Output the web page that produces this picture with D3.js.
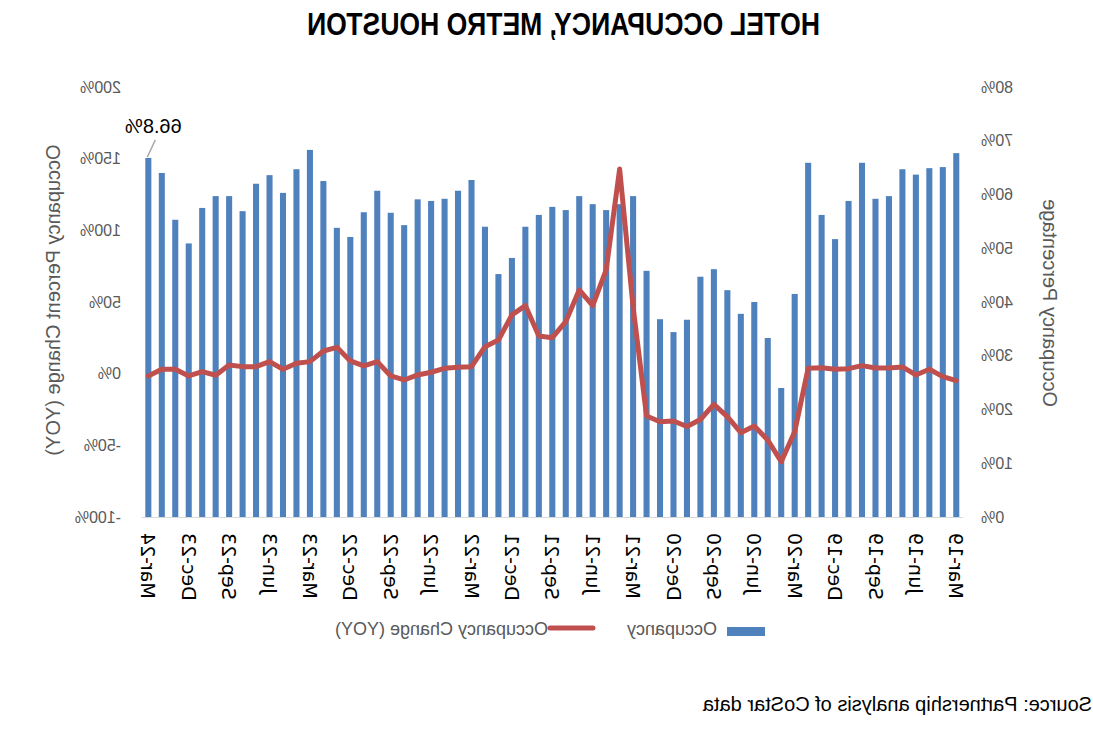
<!DOCTYPE html>
<html>
<head>
<meta charset="utf-8">
<script src="https://cdn.jsdelivr.net/npm/d3@7"></script>
<style>
  html, body { margin: 0; padding: 0; background: #fff; }
  svg { display: block; }
</style>
</head>
<body>
<svg id="chart" width="1093" height="733"></svg>
<script>
// ---- Data (monthly, Mar-19 .. Mar-24) ----
const months = [
  "Mar-19","Apr-19","May-19","Jun-19","Jul-19","Aug-19","Sep-19","Oct-19","Nov-19","Dec-19","Jan-20","Feb-20",
  "Mar-20","Apr-20","May-20","Jun-20","Jul-20","Aug-20","Sep-20","Oct-20","Nov-20","Dec-20","Jan-21","Feb-21",
  "Mar-21","Apr-21","May-21","Jun-21","Jul-21","Aug-21","Sep-21","Oct-21","Nov-21","Dec-21","Jan-22","Feb-22",
  "Mar-22","Apr-22","May-22","Jun-22","Jul-22","Aug-22","Sep-22","Oct-22","Nov-22","Dec-22","Jan-23","Feb-23",
  "Mar-23","Apr-23","May-23","Jun-23","Jul-23","Aug-23","Sep-23","Oct-23","Nov-23","Dec-23","Jan-24","Feb-24",
  "Mar-24"
];
// Occupancy (%)
const occupancy = [
  67.7, 65.1, 64.9, 63.7, 64.7, 59.7, 59.2, 65.9, 58.8, 51.7, 56.2, 65.9,
  41.5, 24.0, 33.3, 40.0, 37.8, 42.2, 46.1, 44.7, 36.7, 34.4, 36.8, 45.8,
  59.7, 58.2, 57.1, 58.2, 59.7, 57.1, 57.7, 56.2, 54.0, 48.2, 45.2, 54.0,
  62.7, 60.7, 59.2, 58.8, 59.1, 54.3, 56.6, 60.7, 56.7, 52.1, 53.8, 62.5,
  68.3, 64.7, 60.3, 63.6, 62.0, 56.9, 59.7, 59.7, 57.5, 50.9, 55.3, 64.0,
  66.8
];
// Occupancy change year over year (%)
const occupancyChange = [
  -4.9, -2.1, 3.1, -0.9, 4.7, 4.0, 4.0, 5.6, 3.5, 3.1, 4.2, 3.7,
  -40.5, -61.4, -46.3, -36.5, -41.2, -30.0, -21.4, -32.0, -36.9, -33.0, -33.5, -29.5,
  46.5, 142.8, 72.4, 47.5, 58.4, 36.3, 25.1, 26.3, 47.5, 41.0, 23.5, 18.8,
  4.9, 4.4, 3.7, 1.0, -0.9, -4.4, -1.6, 8.4, 5.4, 8.9, 18.4, 15.8,
  8.4, 7.3, 3.1, 8.4, 4.9, 4.9, 6.1, -1.1, 1.4, -1.6, 3.1, 3.1,
  -1.6
];
const xTickLabels = ["Mar-19","Jun-19","Sep-19","Dec-19","Mar-20","Jun-20","Sep-20","Dec-20","Mar-21","Jun-21","Sep-21","Dec-21",
                     "Mar-22","Jun-22","Sep-22","Dec-22","Mar-23","Jun-23","Sep-23","Dec-23","Mar-24"];
const occTicks = [0, 10, 20, 30, 40, 50, 60, 70, 80];
const occTickLabels = ["0%","10%","20%","30%","40%","50%","60%","70%","80%"];
const chgTicks = [-100, -50, 0, 50, 100, 150, 200];
const chgTickLabels = ["-100%","-50%","0%","50%","100%","150%","200%"];
const titleText = "HOTEL OCCUPANCY, METRO HOUSTON";
const leftAxisTitle = "Occupancy Percentage";
const rightAxisTitle = "Occupancy Percent Change (YOY)";
const legendLabels = ["Occupancy", "Occupancy Change (YOY)"];
const sourceText = "Source: Partnership analysis of CoStar data";
const callout = { month: "Mar-24", text: "66.8%" };

// ---- Layout ----
const W = 1093, H = 733;
const plotLeft = 130, plotRight = 951.4, plotTop = 87, plotBottom = 517;
const barColor = "#4F81BD", lineColor = "#C0504D", grey = "#595959";

const svg = d3.select("#chart");
// The reference is a horizontally mirrored image; draw normally, then mirror.
const root = svg.append("g").attr("transform", `translate(${W},0) scale(-1,1)`);

const x = d3.scaleBand().domain(months).range([plotLeft, plotRight]).paddingInner(0.55).paddingOuter(0.275);
const yOcc = d3.scaleLinear().domain([0, 80]).range([plotBottom, plotTop]);
const yChg = d3.scaleLinear().domain([-100, 200]).range([plotBottom, plotTop]);
const cx = m => x(m) + x.bandwidth() / 2;

// Title
root.append("text")
  .attr("x", 529.5).attr("y", 35)
  .attr("text-anchor", "middle")
  .attr("font-family", "'Liberation Sans Narrow', 'Liberation Sans', Arial, sans-serif")
  .attr("font-weight", "bold").attr("font-size", 31)
  .attr("textLength", 513).attr("lengthAdjust", "spacingAndGlyphs")
  .attr("fill", "#000")
  .text(titleText);

// Bars
root.append("g").selectAll("rect")
  .data(months)
  .join("rect")
  .attr("x", d => x(d))
  .attr("width", x.bandwidth())
  .attr("y", (d, i) => yOcc(occupancy[i]))
  .attr("height", (d, i) => yOcc(0) - yOcc(occupancy[i]))
  .attr("fill", barColor);

// Category axis baseline
root.append("line")
  .attr("x1", plotLeft).attr("x2", plotRight)
  .attr("y1", plotBottom + 0.5).attr("y2", plotBottom + 0.5)
  .attr("stroke", "#D9D9D9").attr("stroke-width", 1);

// Line
const line = d3.line().x((d, i) => cx(months[i])).y(d => yChg(d));
root.append("path")
  .datum(occupancyChange)
  .attr("d", line)
  .attr("fill", "none")
  .attr("stroke", lineColor)
  .attr("stroke-width", 5)
  .attr("stroke-linejoin", "round")
  .attr("stroke-linecap", "round");

// Left axis (occupancy)
const axL = d3.axisLeft(yOcc).tickValues(occTicks)
  .tickFormat((d, i) => occTickLabels[i]).tickSize(0).tickPadding(0);
const gL = root.append("g").attr("transform", "translate(112,0)").call(axL);
gL.select(".domain").remove();
gL.selectAll("text").attr("font-family", "'Liberation Sans', Arial, sans-serif")
  .attr("font-size", 16).attr("fill", grey);

// Right axis (change)
const axR = d3.axisRight(yChg).tickValues(chgTicks)
  .tickFormat((d, i) => chgTickLabels[i]).tickSize(0).tickPadding(0);
const gR = root.append("g").attr("transform", "translate(972,0)").call(axR);
gR.select(".domain").remove();
gR.selectAll("text").attr("font-family", "'Liberation Sans', Arial, sans-serif")
  .attr("font-size", 16).attr("fill", grey);

// Axis titles
root.append("text")
  .attr("transform", "translate(43,303) rotate(-90)")
  .attr("text-anchor", "middle").attr("dy", "0.35em")
  .attr("font-family", "'Liberation Sans', Arial, sans-serif")
  .attr("font-size", 20).attr("fill", grey)
  .text(leftAxisTitle);
root.append("text")
  .attr("transform", "translate(1040,300) rotate(90)")
  .attr("text-anchor", "middle").attr("dy", "0.35em")
  .attr("font-family", "'Liberation Sans', Arial, sans-serif")
  .attr("font-size", 20).attr("fill", grey)
  .text(rightAxisTitle);

// X axis labels
const axB = d3.axisBottom(x).tickValues(xTickLabels).tickSize(0).tickPadding(0);
const gB = root.append("g").attr("transform", `translate(0,${plotBottom})`).call(axB);
gB.select(".domain").remove();
gB.selectAll("text")
  .attr("font-family", "'DejaVu Sans', Verdana, sans-serif")
  .attr("font-size", 19).attr("fill", "#000")
  .attr("text-anchor", "end")
  .attr("transform", "rotate(-90)")
  .attr("x", -16).attr("y", 0).attr("dy", "0.36em");

// Callout for the latest value
const cxM = cx(callout.month);
const cyM = yOcc(occupancy[months.indexOf(callout.month)]);
root.append("line")
  .attr("x1", cxM + 1).attr("y1", cyM - 1)
  .attr("x2", cxM - 7).attr("y2", cyM - 18)
  .attr("stroke", "#A6A6A6").attr("stroke-width", 1.5);
root.append("text")
  .attr("x", cxM - 5).attr("y", cyM - 25)
  .attr("text-anchor", "middle")
  .attr("font-family", "'Liberation Sans', Arial, sans-serif")
  .attr("font-size", 20).attr("fill", "#000")
  .text(callout.text);

// Legend
const lg = root.append("g");
lg.append("rect").attr("x", 328).attr("y", 627).attr("width", 38).attr("height", 9).attr("fill", barColor);
lg.append("text").attr("x", 376).attr("y", 635)
  .attr("font-family", "'Liberation Sans', Arial, sans-serif").attr("font-size", 18).attr("fill", grey)
  .text(legendLabels[0]);
lg.append("line").attr("x1", 500).attr("x2", 543).attr("y1", 628).attr("y2", 628)
  .attr("stroke", lineColor).attr("stroke-width", 5).attr("stroke-linecap", "round");
lg.append("text").attr("x", 545).attr("y", 635)
  .attr("font-family", "'Liberation Sans', Arial, sans-serif").attr("font-size", 18).attr("fill", grey)
  .text(legendLabels[1]);

// Source
root.append("text").attr("x", 1).attr("y", 711)
  .attr("font-family", "'Liberation Sans', Arial, sans-serif").attr("font-size", 20).attr("fill", "#000")
  .text(sourceText);
</script>
</body>
</html>
